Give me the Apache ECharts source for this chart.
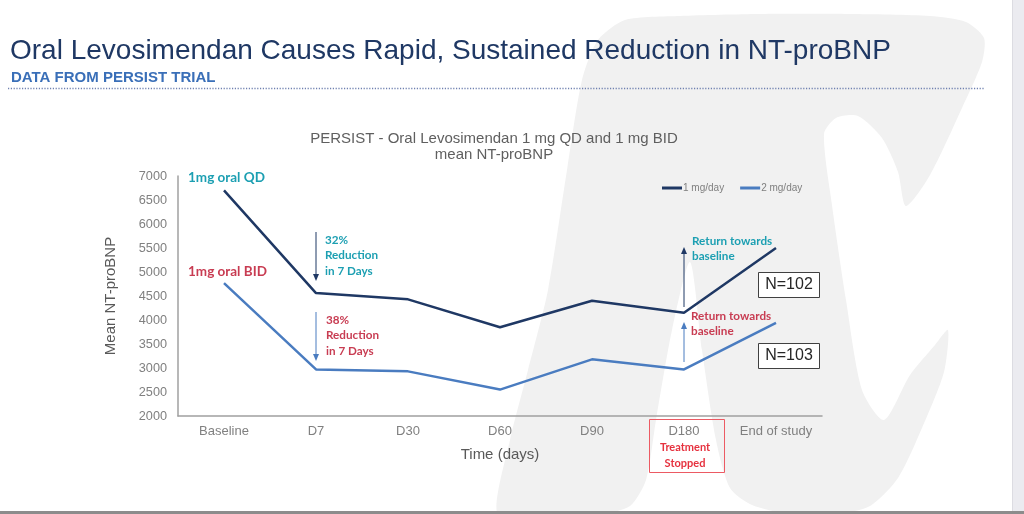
<!DOCTYPE html>
<html>
<head>
<meta charset="utf-8">
<script src="https://cdn.jsdelivr.net/npm/echarts@6/dist/echarts.min.js"></script>
<style>
html,body{margin:0;padding:0;background:#fff;}
#chart{width:1024px;height:514px;}
</style>
</head>
<body>
<div id="chart"></div>
<script>
// ---- data ----
const categories = ['Baseline', 'D7', 'D30', 'D60', 'D90', 'D180', 'End of study'];
const seriesNames = ['1 mg/day', '2 mg/day'];
const qdValues = [6700, 4560, 4430, 3850, 4400, 4150, 5500];
const bidValues = [4770, 2970, 2930, 2550, 3180, 2970, 3940];
const yMin = 2000, yMax = 7000, yInterval = 500;

const mainTitle = 'Oral Levosimendan Causes Rapid, Sustained Reduction in NT-proBNP';
const subTitle = 'DATA FROM PERSIST TRIAL';
const chartTitle = 'PERSIST - Oral Levosimendan 1 mg QD and 1 mg BID\nmean NT-proBNP';

const NAVY = '#1f3864', BLUE = '#4a7cc0', TEAL = '#1c9fb2', RED = '#c83c52', BRIGHTRED = '#e6323f';
const ANN_FONT = 'bold 11.7px Lato, "Open Sans", sans-serif';

const chart = echarts.init(document.getElementById('chart'), null, {renderer: 'canvas'});

const watermark = [
  [497,513],[510,440],[528,370],[548,290],[567,170],[582,80],[598,40],[625,20],[680,16],
  [760,14],[850,14],[930,16],[966,22],[984,38],[982,62],[962,108],[930,175],[906,206],
  [898,172],[882,138],[858,116],[836,118],[824,134],[832,205],[846,300],[862,390],[884,420],
  [910,375],[935,345],[948,330],[944,372],[922,428],[898,478],[870,506],[836,514],[790,514],
  [752,505],[730,488],[716,440],[702,350],[690,262],[672,330],[656,420],[646,480],[630,506],[600,514],[530,514]
];

chart.setOption({
  animation: false,
  backgroundColor: '#ffffff',
  title: [
    {text: mainTitle, left: 5, top: 32, textStyle: {fontFamily: 'Liberation Sans, Arial, sans-serif', fontWeight: 'normal', fontSize: 28, color: '#1f3864'}},
    {text: subTitle, left: 6, top: 65, textStyle: {fontFamily: '"Liberation Sans Narrow", "Liberation Sans", Arial, sans-serif', fontWeight: 'bold', fontSize: 15, color: '#3a6fb8'}},
    {text: chartTitle, left: 489, top: 126, textAlign: 'center', textStyle: {fontFamily: 'Liberation Sans, Arial, sans-serif', fontWeight: 'normal', fontSize: 15, lineHeight: 16, color: '#5f5f5f', align: 'center'}}
  ],
  legend: {
    data: seriesNames, left: 662, top: 183, icon: 'rect', itemWidth: 20, itemHeight: 3, itemGap: 16, padding: 0,
    textStyle: {fontSize: 10, color: '#7f7f7f', fontFamily: 'Liberation Sans, Arial, sans-serif', padding: [0,0,0,-4]}
  },
  grid: {left: 178, right: 202, top: 176, bottom: 98, containLabel: false},
  xAxis: {
    type: 'category', data: categories, boundaryGap: true,
    name: 'Time (days)', nameLocation: 'middle', nameGap: 31,
    nameTextStyle: {fontSize: 15, color: '#595959', fontFamily: 'Liberation Sans, Arial, sans-serif'},
    axisLine: {lineStyle: {color: '#a0a0a0', width: 1.5}},
    axisTick: {show: false},
    axisLabel: {interval: 0, hideOverlap: false, fontSize: 13, color: '#808080', margin: 9, fontFamily: 'Liberation Sans, Arial, sans-serif'},
    splitLine: {show: false}
  },
  yAxis: {
    type: 'value', min: yMin, max: yMax, interval: yInterval,
    name: 'Mean NT-proBNP', nameLocation: 'middle', nameGap: 60,
    nameTextStyle: {fontSize: 15, color: '#595959', fontFamily: 'Liberation Sans, Arial, sans-serif'},
    axisLine: {show: true, lineStyle: {color: '#a0a0a0', width: 1.5}},
    axisTick: {show: false},
    axisLabel: {fontSize: 12.7, color: '#808080', margin: 11, fontFamily: 'Liberation Sans, Arial, sans-serif', formatter: v => String(v)},
    splitLine: {show: false}
  },
  series: [
    {name: seriesNames[0], type: 'line', data: qdValues, symbol: 'none', lineStyle: {color: NAVY, width: 2.5}, itemStyle: {color: NAVY}, z: 3},
    {name: seriesNames[1], type: 'line', data: bidValues, symbol: 'none', lineStyle: {color: BLUE, width: 2.5}, itemStyle: {color: BLUE}, z: 3}
  ]
});

function px(cat, val) { return chart.convertToPixel({xAxisIndex: 0, yAxisIndex: 0}, [cat, val]); }

function arrow(x, y1, y2, color) {
  const dir = y2 > y1 ? 1 : -1;
  return [
    {type: 'line', z: 5, shape: {x1: x, y1: y1, x2: x, y2: y2 - dir * 5}, style: {stroke: color, lineWidth: 1}},
    {type: 'polygon', z: 5, shape: {points: [[x - 3, y2 - dir * 7], [x + 3, y2 - dir * 7], [x, y2]]}, style: {fill: color}}
  ];
}
function txt(x, y, text, color, font, align) {
  return {type: 'text', z: 6, x: x, y: y, style: {text: text, fill: color, font: font || ANN_FONT, lineHeight: 15.5, textAlign: align || 'left', textVerticalAlign: 'top'}};
}

const xD7 = px(categories[1], yMin)[0];
const xD180 = px(categories[5], yMin)[0];
const xEnd = px(categories[6], yMin)[0];
const axisBottom = px(categories[0], yMin)[1];

const g = [];
// watermark
g.push({type: 'polygon', z: -100, silent: true, shape: {points: watermark, smooth: 0.25}, style: {fill: '#f1f1f1'}});
// right panel & bottom line
g.push({type: 'rect', z: -90, shape: {x: 1012, y: 0, width: 12, height: 514}, style: {fill: '#ebebf0'}});
g.push({type: 'line', z: -89, shape: {x1: 1012.5, y1: 0, x2: 1012.5, y2: 514}, style: {stroke: '#dcdce2', lineWidth: 1}});
g.push({type: 'rect', z: 10, shape: {x: 0, y: 511, width: 1024, height: 3}, style: {fill: '#8c8c8c'}});
// dotted rule
g.push({type: 'line', z: 5, shape: {x1: 8, y1: 88.5, x2: 985, y2: 88.5}, style: {stroke: '#6f80b0', lineWidth: 1.5, lineDash: [1.2, 1.6]}});
// annotations
g.push(txt(188, 170, '1mg oral QD', TEAL, 'bold 13.5px Lato, "Open Sans", sans-serif'));
g.push(txt(188, 264, '1mg oral BID', RED, 'bold 13.5px Lato, "Open Sans", sans-serif'));
arrow(xD7, 232, 281, NAVY).forEach(e => g.push(e));
arrow(xD7, 312, 361, BLUE).forEach(e => g.push(e));
g.push(txt(xD7 + 9, 232, '32%\nReduction\nin 7 Days', TEAL));
g.push(txt(xD7 + 10, 312, '38%\nReduction\nin 7 Days', RED));
arrow(xD180, 307, 247, NAVY).forEach(e => g.push(e));
arrow(xD180, 362, 322, BLUE).forEach(e => g.push(e));
g.push(txt(xD180 + 8, 233, 'Return towards\nbaseline', TEAL));
g.push(txt(xD180 + 7, 308, 'Return towards\nbaseline', RED));
// N boxes
[[272, 'N=102'], [343, 'N=103']].forEach(([y, t]) => {
  g.push({type: 'rect', z: 6, shape: {x: xEnd - 17.5, y: y + 0.5, width: 61, height: 25}, style: {fill: '#ffffff', stroke: '#404040', lineWidth: 1}});
  g.push({type: 'text', z: 7, x: xEnd + 13, y: y + 13, style: {text: t, fill: '#262626', font: '16px "Liberation Sans", Arial, sans-serif', textAlign: 'center', textVerticalAlign: 'middle'}});
});
// Treatment stopped box
g.push({type: 'rect', z: 6, shape: {x: xD180 - 34.5, y: axisBottom + 3.5, width: 75, height: 53}, style: {fill: 'none', stroke: '#ec5a63', lineWidth: 1}});
g.push(txt(xD180 + 1, axisBottom + 24, 'Treatment\nStopped', BRIGHTRED, 'bold 11px Lato, "Open Sans", sans-serif', 'center'));

chart.setOption({graphic: {elements: g}});
</script>
</body>
</html>
